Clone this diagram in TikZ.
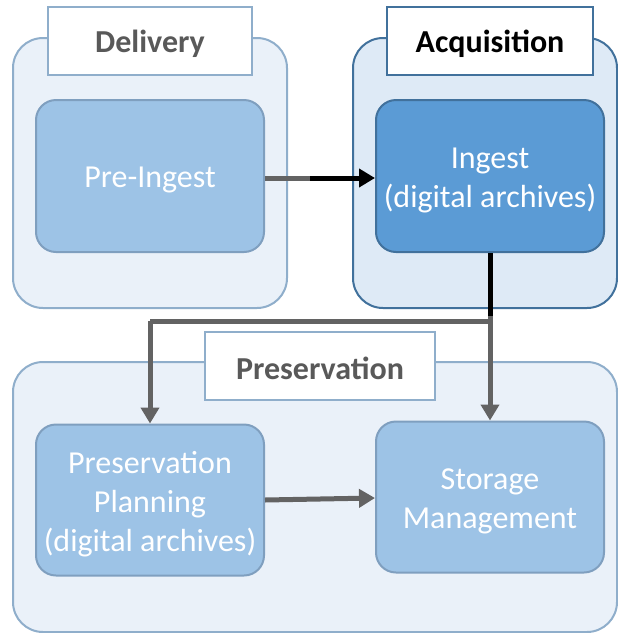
\documentclass[tikz,border=0pt]{standalone}
\usepackage{fontspec}
\setmainfont{Carlito}
\usetikzlibrary{arrows.meta}
\definecolor{lightfill}{HTML}{EAF1F9}
\definecolor{lightborder}{HTML}{8FAECB}
\definecolor{acqfill}{HTML}{DEEAF6}
\definecolor{acqborder}{HTML}{41719C}
\definecolor{boxfill}{HTML}{9DC3E6}
\definecolor{boxborder}{HTML}{7F9FBF}
\definecolor{ingfill}{HTML}{5B9BD5}
\definecolor{arrowgrey}{HTML}{636363}
\definecolor{labelgrey}{HTML}{595959}
\tikzset{
  container/.style={draw=lightborder, fill=lightfill, line width=2pt, rounded corners=30pt, inner sep=0pt},
  labelbox/.style={draw=lightborder, fill=white, line width=2pt, inner sep=0pt, minimum height=68pt},
  labeltext/.style={font=\fontsize{32}{38}\selectfont\bfseries, text=labelgrey, inner sep=0pt},
  procbox/.style={draw=boxborder, fill=boxfill, line width=2pt, rounded corners=20pt, minimum width=228pt, minimum height=152pt},
  proctext/.style={align=center, text=white, font=\fontsize{32}{39}\selectfont, inner sep=0pt},
  conn/.style={line width=5pt, arrowgrey},
  arr/.style={-{Triangle[length=16pt,width=18pt]}},
}
\begin{document}
\begin{tikzpicture}[x=1pt,y=-1pt]
\useasboundingbox (0,0) rectangle (618,633);
% containers
\node[container, minimum width=274pt, minimum height=270pt] (delc) at (150,173) {};
\node[container, draw=acqborder, fill=acqfill, minimum width=264pt, minimum height=270pt] (acqc) at (485,173) {};
\node[container, minimum width=604pt, minimum height=270pt] (presc) at (315,497) {};
% labels
\node[labelbox, minimum width=204pt] (dell) at (150,41) {};
\node[labeltext] (delt) at ([yshift=-3pt]dell.center) {Delivery};
\node[labelbox, draw=acqborder, minimum width=206pt] (acql) at (490,41) {};
\node[labeltext, text=black] (acqt) at ([yshift=-3pt]acql.center) {Acquisition};
\node[labelbox, minimum width=230pt] (presl) at (320,366) {};
\node[labeltext] (prest) at ([yshift=-2pt]presl.center) {Preservation};
% process boxes
\node[procbox] (pre) at (150,176) {};
\node[proctext] (pret) at ([yshift=-4pt]pre.center) {Pre-Ingest};
\node[procbox, fill=ingfill, draw=acqborder] (ing) at (490,176) {};
\node[proctext] (ingt) at ([yshift=-4pt]ing.center) {Ingest\\(digital archives)};
\node[procbox, minimum height=151pt] (plan) at (150,500) {};
\node[proctext] (plant) at ([yshift=-4pt]plan.center) {Preservation\\Planning\\(digital archives)};
\node[procbox, minimum height=151pt] (stor) at (490,497) {};
\node[proctext] (stort) at ([yshift=-4pt]stor.center) {Storage\\Management};
% connectors
\coordinate (mid) at (310,178);
\coordinate (jn) at (490,321);
\coordinate (jb) at (490,316);
\coordinate (lt) at (150,321);
\draw[conn] (pre.east |- mid) -- (mid);
\draw[conn, black, arr] (mid) -- (ing.west |- mid);
\draw[conn, black] (ing.south) -- (jb);
\draw[conn, line join=miter] (jb) -- (jn) -- (lt);
\draw[conn, arr] (lt) -- (plan.north);
\draw[conn, arr] (jb) -- (stor.north);
\draw[conn, arr] (plan.east |- 0,500) -- (stor.west |- 0,498);
\end{tikzpicture}
\end{document}
